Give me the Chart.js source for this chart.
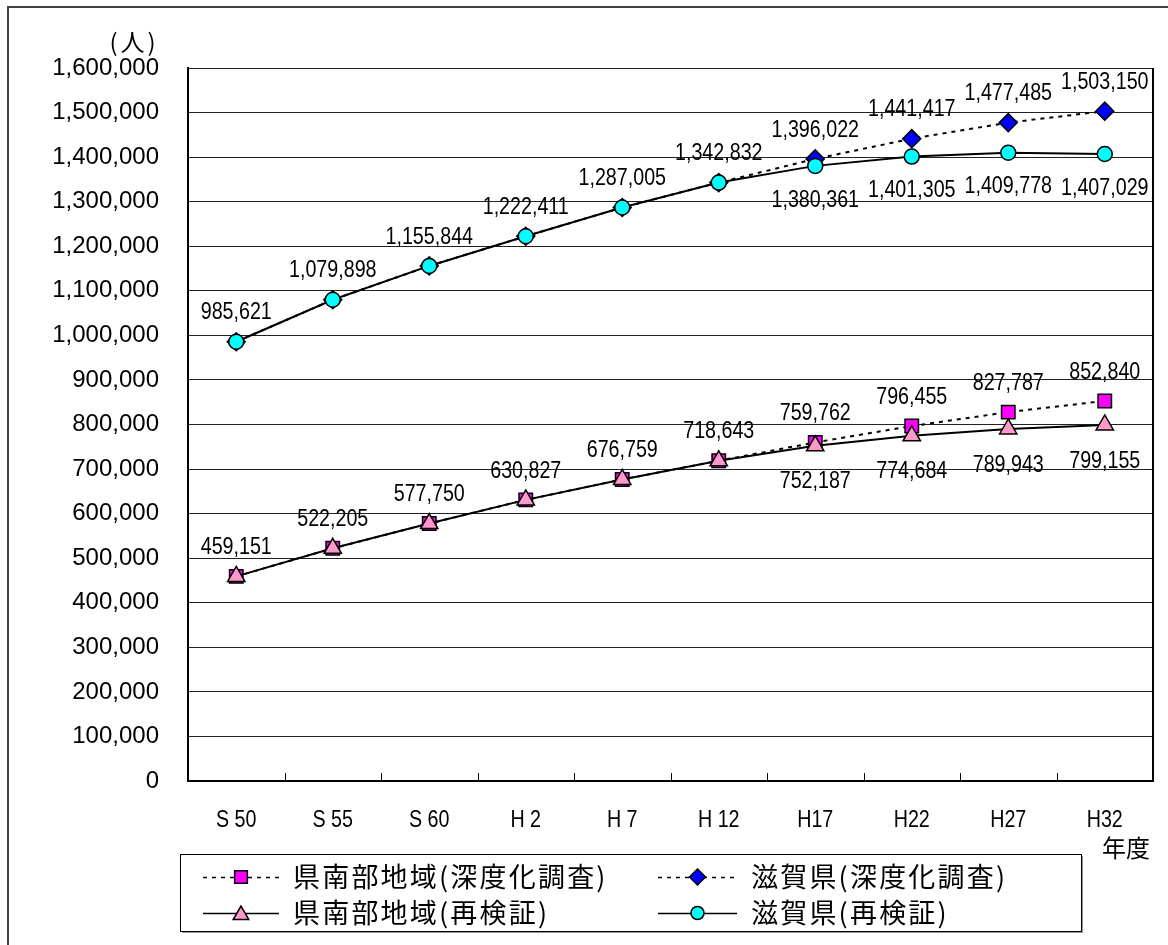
<!DOCTYPE html>
<html lang="ja">
<head>
<meta charset="utf-8">
<title>人口推計</title>
<script src="https://cdn.jsdelivr.net/npm/chart.js@4/dist/chart.umd.min.js"></script>
<style>
  html, body { margin: 0; padding: 0; background: #fff; overflow: hidden; }
  #wrap { position: relative; width: 1168px; height: 945px; }
  #frame { position: absolute; left: 7px; top: 6px; width: 1300px; height: 1100px; border: 2px solid #444; }
  #chart { position: absolute; left: 0; top: 0; }
</style>
</head>
<body>
<div id="wrap">
  <div id="frame"></div>
  <canvas id="chart" width="1168" height="945"></canvas>
</div>
<script>
// 年度
const years = ['S 50', 'S 55', 'S 60', 'H 2', 'H 7', 'H 12', 'H17', 'H22', 'H27', 'H32'];

// 人口（人）
const nanbuSurvey = [459151, 522205, 577750, 630827, 676759, 718643, 759762, 796455, 827787, 852840];
const shigaSurvey = [985621, 1079898, 1155844, 1222411, 1287005, 1342832, 1396022, 1441417, 1477485, 1503150];
const nanbuReview = [459151, 522205, 577750, 630827, 676759, 718643, 752187, 774684, 789943, 799155];
const shigaReview = [985621, 1079898, 1155844, 1222411, 1287005, 1342832, 1380361, 1401305, 1409778, 1407029];

// 縦軸
const yMin = 0;
const yMax = 1600000;
const yStep = 100000;

const NUM_FONT = '"Liberation Sans", Arial, sans-serif';
const JP_FONT = '"Noto Sans CJK JP", sans-serif';
const fmt = v => v.toLocaleString('en-US');

// 横に少し詰めた文字
function squeezeText(ctx, text, x, y, sx) {
  ctx.save();
  ctx.translate(x, y);
  ctx.scale(sx, 1);
  ctx.fillText(text, 0, 0);
  ctx.restore();
}

function drawMarker(ctx, style, x, y, r, fill) {
  ctx.save();
  ctx.fillStyle = fill;
  ctx.strokeStyle = '#000';
  ctx.lineWidth = 1.5;
  ctx.setLineDash([]);
  ctx.beginPath();
  if (style === 'rect') {
    const s = r * Math.SQRT1_2;
    ctx.rect(x - s, y - s, 2 * s, 2 * s);
  } else if (style === 'rectRot') {
    ctx.moveTo(x, y - r); ctx.lineTo(x + r, y); ctx.lineTo(x, y + r); ctx.lineTo(x - r, y); ctx.closePath();
  } else if (style === 'triangle') {
    ctx.moveTo(x, y - r);
    ctx.lineTo(x + r * 0.866, y + r * 0.5);
    ctx.lineTo(x - r * 0.866, y + r * 0.5);
    ctx.closePath();
  } else {
    ctx.arc(x, y, r, 0, Math.PI * 2);
  }
  ctx.fill();
  ctx.stroke();
  ctx.restore();
}

const dotted = [4, 5];

const datasets = [
  {
    label: '県南部地域(深度化調査)',
    data: nanbuSurvey,
    borderColor: '#000', borderWidth: 2, borderDash: dotted,
    pointStyle: 'rect', pointRadius: 9.5, pointBackgroundColor: '#ff00ff',
    order: 1, labelOffset: -29
  },
  {
    label: '滋賀県(深度化調査)',
    data: shigaSurvey,
    borderColor: '#000', borderWidth: 2, borderDash: dotted,
    pointStyle: 'rectRot', pointRadius: 9, pointBackgroundColor: '#0000ff',
    order: 1, labelOffset: -29
  },
  {
    label: '県南部地域(再検証)',
    data: nanbuReview,
    borderColor: '#000', borderWidth: 2,
    pointStyle: 'triangle', pointRadius: 10, pointBackgroundColor: '#ff99cc',
    order: 0, labelOffset: 36, sameAs: nanbuSurvey
  },
  {
    label: '滋賀県(再検証)',
    data: shigaReview,
    borderColor: '#000', borderWidth: 2,
    pointStyle: 'circle', pointRadius: 7.5, pointBackgroundColor: '#00ffff',
    order: 0, labelOffset: 34, sameAs: shigaSurvey
  }
];
datasets.forEach(d => {
  d.pointBorderColor = '#000';
  d.pointBorderWidth = 1.5;
  d.tension = 0;
  d.fill = false;
});

// 外枠・目盛り・横軸ラベル
const framePlugin = {
  id: 'frame',
  beforeDatasetsDraw(chart) {
    const {ctx, chartArea: a, scales: {x}} = chart;
    ctx.save();
    ctx.strokeStyle = '#000';
    ctx.lineWidth = 2;
    ctx.beginPath();
    ctx.moveTo(a.right, a.top);
    ctx.lineTo(a.right, a.bottom);
    ctx.stroke();
    ctx.lineWidth = 1;
    for (let i = 0; i < years.length - 1; i++) {
      const px = Math.round((x.getPixelForValue(i) + x.getPixelForValue(i + 1)) / 2) + 0.5;
      ctx.beginPath();
      ctx.moveTo(px, a.bottom);
      ctx.lineTo(px, a.bottom - 8);
      ctx.stroke();
    }
    ctx.restore();
  },
  afterDraw(chart) {
    const {ctx, scales: {x}} = chart;
    ctx.save();
    ctx.fillStyle = '#000';
    ctx.textAlign = 'center';
    ctx.textBaseline = 'middle';
    ctx.font = '24px ' + NUM_FONT;
    years.forEach((y, i) => squeezeText(ctx, y, x.getPixelForValue(i), 820, 0.82));

    ctx.font = '24px ' + JP_FONT;
    ctx.fillText('年度', 1126, 848);
    ctx.letterSpacing = '3px';
    ctx.fillText('(人)', 134, 42);
    ctx.restore();
  }
};

// データラベル
const valueLabels = {
  id: 'valueLabels',
  afterDatasetsDraw(chart) {
    const {ctx} = chart;
    ctx.save();
    ctx.fillStyle = '#000';
    ctx.font = '24px ' + NUM_FONT;
    ctx.textAlign = 'center';
    ctx.textBaseline = 'middle';
    chart.data.datasets.forEach((ds, di) => {
      const meta = chart.getDatasetMeta(di);
      meta.data.forEach((pt, i) => {
        if (ds.sameAs && ds.sameAs[i] === ds.data[i]) return;
        squeezeText(ctx, fmt(ds.data[i]), pt.x, pt.y + ds.labelOffset, 0.82);
      });
    });
    ctx.restore();
  }
};

// 凡例
const boxLegend = {
  id: 'boxLegend',
  afterDraw(chart) {
    const {ctx} = chart;
    const box = {x: 180, y: 854, w: 901, h: 77};
    ctx.save();
    ctx.fillStyle = '#9a9a9a';
    ctx.fillRect(box.x + 2, box.y + 2, box.w, box.h);
    ctx.fillStyle = '#fff';
    ctx.fillRect(box.x, box.y, box.w, box.h);
    ctx.strokeStyle = '#000';
    ctx.lineWidth = 1;
    ctx.strokeRect(box.x + 0.5, box.y + 0.5, box.w, box.h);

    const cols = [203, 658];
    const rows = [877, 913];
    chart.data.datasets.forEach((ds, i) => {
      const lx = cols[i % 2];
      const ly = rows[Math.floor(i / 2)];
      const len = i % 2 ? 79 : 76;
      ctx.strokeStyle = '#000';
      ctx.lineWidth = 1.5;
      ctx.setLineDash(ds.borderDash || []);
      ctx.beginPath();
      ctx.moveTo(lx, ly + 0.5);
      ctx.lineTo(lx + len, ly + 0.5);
      ctx.stroke();
      ctx.setLineDash([]);
      const r = ds.pointStyle === 'circle' ? 6.5 : ds.pointStyle === 'triangle' ? 9 : ds.pointStyle === 'rectRot' ? 8 : 9;
      drawMarker(ctx, ds.pointStyle, lx + len / 2, ly + (ds.pointStyle === 'triangle' ? 2 : 0), r, ds.pointBackgroundColor);
      ctx.fillStyle = '#000';
      ctx.font = '27px ' + JP_FONT;
      ctx.letterSpacing = '2.2px';
      ctx.textAlign = 'left';
      ctx.textBaseline = 'middle';
      ctx.fillText(ds.label, lx + len + 14, ly);
      ctx.letterSpacing = '0px';
    });
    ctx.restore();
  }
};

new Chart(document.getElementById('chart'), {
  type: 'line',
  data: { labels: years, datasets: datasets },
  options: {
    responsive: false,
    animation: false,
    layout: { padding: { top: 68, right: 15, bottom: 164, left: 0 } },
    plugins: {
      legend: { display: false },
      tooltip: { enabled: false }
    },
    scales: {
      x: {
        offset: true,
        grid: { display: false },
        border: { display: true, color: '#000', width: 2 },
        ticks: { display: false },
        afterFit(scale) { scale.height = 0; }
      },
      y: {
        min: yMin,
        max: yMax,
        ticks: {
          stepSize: yStep,
          padding: 29,
          color: '#000',
          font: { family: NUM_FONT, size: 24 },
          callback: v => fmt(v)
        },
        grid: { color: '#222', lineWidth: 1, drawTicks: false },
        border: { display: true, color: '#000', width: 2 },
        afterFit(scale) { scale.width = 188; }
      }
    }
  },
  plugins: [framePlugin, valueLabels, boxLegend]
});
</script>
</body>
</html>
